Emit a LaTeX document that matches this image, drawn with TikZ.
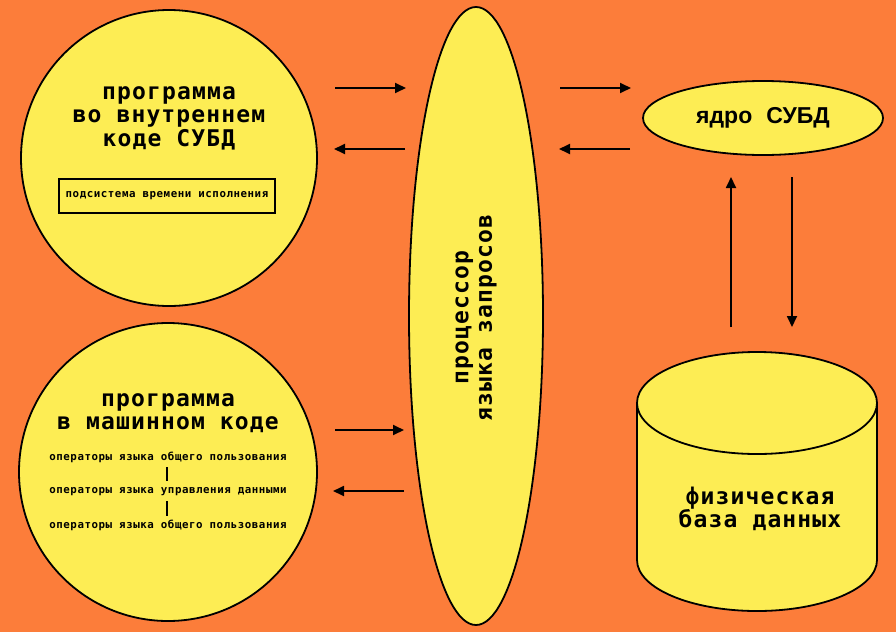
\documentclass[tikz,border=0pt]{standalone}
\usepackage{fontspec}
\usetikzlibrary{shapes.geometric,arrows.meta}
\newfontfamily\monof[LetterSpace=5]{DejaVu Sans Mono}
\newfontfamily\sansf{Liberation Sans}
\definecolor{bgorange}{RGB}{252,125,58}
\definecolor{fillyellow}{RGB}{253,237,84}
\tikzset{
  shapeline/.style={draw=black, line width=1.8pt, fill=fillyellow},
  bigtext/.style={font=\monof\bfseries\fontsize{23}{23.5}\selectfont, align=center, text=black},
  smalltext/.style={font=\monof\bfseries\fontsize{10.8}{12}\selectfont, text=black, inner sep=0pt},
  conn/.style={draw=black, line width=1.8pt, -{Triangle[length=11pt,width=10pt]}},
  bar/.style={draw=black, line width=1.8pt}
}
\begin{document}
\begin{tikzpicture}[x=1pt,y=-1pt]
\useasboundingbox (0,0) rectangle (896,632);
\fill[bgorange] (0,0) rectangle (896,632);

% top-left circle
\node[circle, shapeline, minimum size=296pt, inner sep=0pt] (c1) at (169,158) {};
\node[bigtext] (t1) at (169,118) {программа\\во внутреннем\\коде СУБД};
\node[draw=black, line width=1.8pt, minimum width=216pt, minimum height=34pt, inner sep=0pt, font=\monof\bfseries\fontsize{10.8}{12}\selectfont] (rt) at (167,196) {подсистема времени исполнения};

% bottom-left circle
\node[circle, shapeline, minimum size=298pt, inner sep=0pt] (c2) at (168,472) {};
\node[bigtext] (t2) at (168,413) {программа\\в машинном коде};
\node[smalltext] (op1) at (168,457) {операторы языка общего пользования};
\node[smalltext] (op2) at (168,492) {операторы языка управления данными};
\node[smalltext] (op3) at (168,525) {операторы языка общего пользования};
\coordinate (b1t) at (167,467);
\coordinate (b1b) at (167,481);
\coordinate (b2t) at (167,501);
\coordinate (b2b) at (167,516);
\draw[bar] (b1t) -- (b1b);
\draw[bar] (b2t) -- (b2b);

% middle ellipse
\node[ellipse, shapeline, minimum width=134pt, minimum height=618pt, inner sep=0pt] (qp) at (476,316) {};
\node[bigtext, rotate=90] (qpt) at (476,318) {процессор\\языка запросов};

% kernel ellipse
\node[ellipse, shapeline, minimum width=240pt, minimum height=74pt, inner sep=0pt, font=\sansf\bfseries\fontsize{23}{26}\selectfont] (core) at (763,118) {ядро\hspace{14pt}СУБД};

% cylinder
\path[shapeline] (637,403) -- (637,560) arc[start angle=180, end angle=360, x radius=120, y radius=-51] -- (877,403) arc[start angle=0, end angle=180, x radius=120, y radius=-51] -- cycle;
\draw[line width=1.8pt] (637,403) arc[start angle=180, end angle=360, x radius=120, y radius=-51];
\node[bigtext] (db) at (760,509) {физическая\\база данных};

% horizontal arrows
\coordinate (a1s) at (335,88);  \coordinate (a1e) at (406,88);
\coordinate (a2s) at (405,149); \coordinate (a2e) at (334,149);
\coordinate (a3s) at (335,430); \coordinate (a3e) at (404,430);
\coordinate (a4s) at (404,491); \coordinate (a4e) at (333,491);
\coordinate (a5s) at (560,88);  \coordinate (a5e) at (631,88);
\coordinate (a6s) at (630,149); \coordinate (a6e) at (559,149);
\draw[conn] (a1s) -- (a1e);
\draw[conn] (a2s) -- (a2e);
\draw[conn] (a3s) -- (a3e);
\draw[conn] (a4s) -- (a4e);
\draw[conn] (a5s) -- (a5e);
\draw[conn] (a6s) -- (a6e);

% vertical arrows
\coordinate (v1s) at (731,327); \coordinate (v1e) at (731,177);
\coordinate (v2s) at (792,177); \coordinate (v2e) at (792,327);
\draw[conn] (v1s) -- (v1e);
\draw[conn] (v2s) -- (v2e);
\end{tikzpicture}
\end{document}
